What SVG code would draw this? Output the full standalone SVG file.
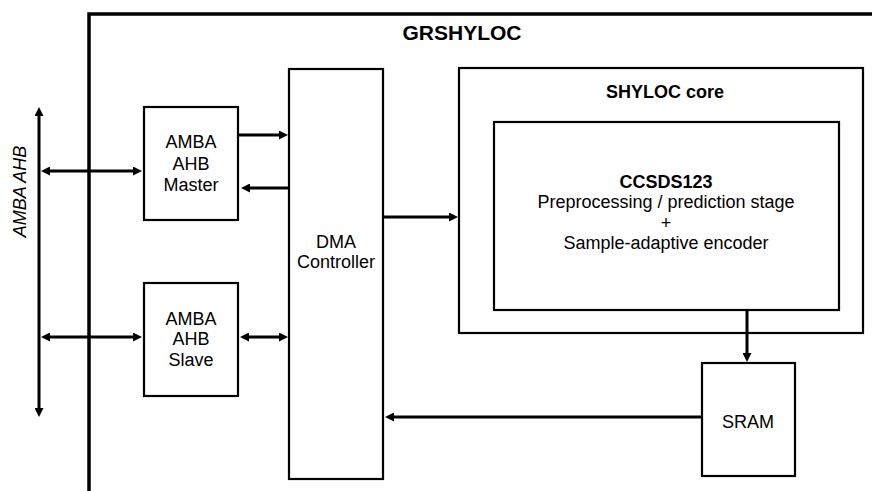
<svg xmlns="http://www.w3.org/2000/svg" width="872" height="491" viewBox="0 0 872 491">
<style>
.box{fill:#fff;stroke:#000;stroke-width:2.2}
.t{font-family:"Liberation Sans",Arial,sans-serif;font-size:18px;fill:#000;text-anchor:middle}
.b{font-weight:bold}
.c{stroke:#000;stroke-width:3;fill:none}
</style>
<defs>
<marker id="ah" viewBox="0 0 9 9" markerWidth="9" markerHeight="9" markerUnits="userSpaceOnUse" refX="2" refY="4.5" orient="auto-start-reverse">
<path d="M0,0 L9,4.5 L0,9 z" fill="#000"/>
</marker>
</defs>
<rect width="872" height="491" fill="#fff"/>
<g id="grshyloc">
<path d="M89,491 V14 H872" fill="none" stroke="#000" stroke-width="3.5"/>
<text class="t b" x="462" y="40" style="font-size:21px">GRSHYLOC</text>
</g>
<g id="bus-label">
<text class="t" transform="translate(25.5,191.5) rotate(-90)" x="0" y="0" font-style="italic">AMBA AHB</text>
</g>
<g id="ahb-master">
<rect class="box" x="144" y="107" width="94" height="113"/>
<text class="t" x="191" y="148">AMBA</text>
<text class="t" x="191" y="170">AHB</text>
<text class="t" x="191" y="191">Master</text>
</g>
<g id="ahb-slave">
<rect class="box" x="144" y="283" width="94" height="113"/>
<text class="t" x="191" y="325">AMBA</text>
<text class="t" x="191" y="345">AHB</text>
<text class="t" x="191" y="366">Slave</text>
</g>
<g id="dma">
<rect class="box" x="289" y="69" width="94" height="410"/>
<text class="t" x="336" y="248">DMA</text>
<text class="t" x="336" y="268">Controller</text>
</g>
<g id="shyloc-core">
<rect class="box" x="459" y="68" width="404" height="265"/>
<text class="t b" x="665" y="98">SHYLOC core</text>
</g>
<g id="ccsds123">
<rect class="box" x="494" y="122" width="345" height="188"/>
<text class="t b" x="666" y="188">CCSDS123</text>
<text class="t" x="666" y="208">Preprocessing / prediction stage</text>
<text class="t" x="666" y="229">+</text>
<text class="t" x="666" y="249">Sample-adaptive encoder</text>
</g>
<g id="sram">
<rect class="box" x="702" y="363" width="93" height="113"/>
<text class="t" x="748" y="428">SRAM</text>
</g>
<g id="connectors">
<line class="c" x1="39" y1="114" x2="39" y2="410" marker-start="url(#ah)" marker-end="url(#ah)"/>
<line class="c" x1="48" y1="171" x2="135" y2="171" marker-start="url(#ah)" marker-end="url(#ah)"/>
<line class="c" x1="238" y1="135" x2="281" y2="135" marker-end="url(#ah)"/>
<line class="c" x1="289" y1="188" x2="248" y2="188" marker-end="url(#ah)"/>
<line class="c" x1="48" y1="337" x2="135" y2="337" marker-start="url(#ah)" marker-end="url(#ah)"/>
<line class="c" x1="247" y1="337" x2="281" y2="337" marker-start="url(#ah)" marker-end="url(#ah)"/>
<line class="c" x1="384" y1="217" x2="451" y2="217" marker-end="url(#ah)"/>
<line class="c" x1="747" y1="310" x2="747" y2="355" marker-end="url(#ah)"/>
<line class="c" x1="702" y1="417" x2="392" y2="417" marker-end="url(#ah)"/>
</g>
</svg>
